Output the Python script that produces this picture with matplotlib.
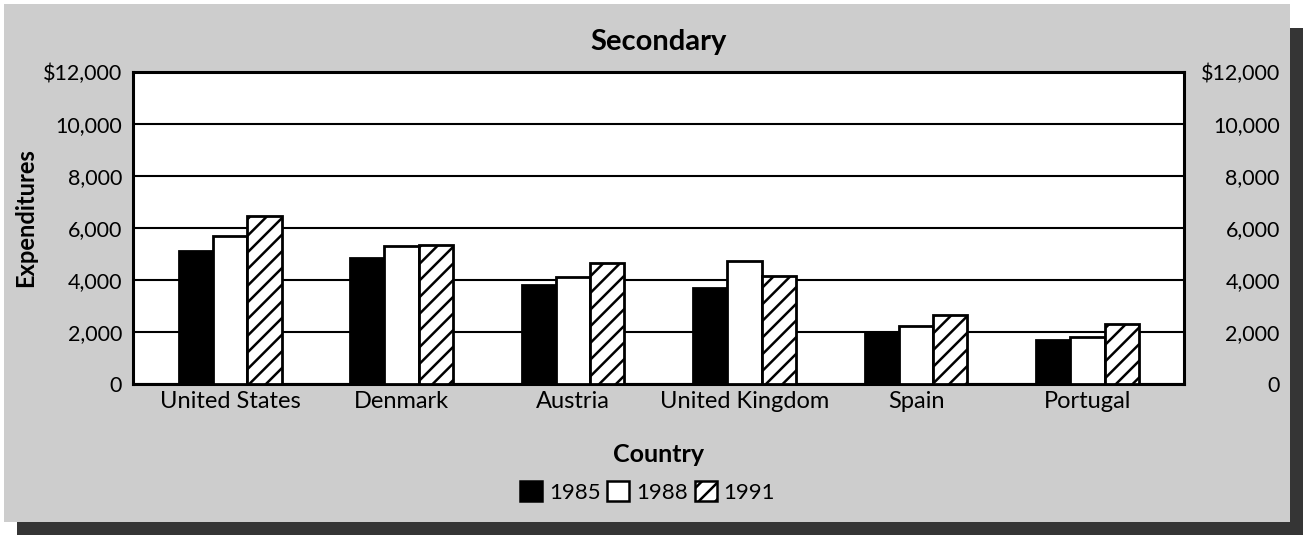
import numpy as np
import matplotlib
matplotlib.use("Agg")
import matplotlib.pyplot as plt
from matplotlib.patches import Rectangle, Patch

plt.rcParams['font.family'] = ['Lato', 'DejaVu Sans']
plt.rcParams['hatch.linewidth'] = 1.8

# data
countries = ["United States", "Denmark", "Austria", "United Kingdom", "Spain", "Portugal"]
years = ["1985", "1988", "1991"]
exp_1985 = [5100, 4850, 3800, 3700, 1950, 1700]
exp_1988 = [5700, 5300, 4100, 4750, 2250, 1800]
exp_1991 = [6450, 5350, 4650, 4150, 2650, 2300]
yticks = [0, 2000, 4000, 6000, 8000, 10000, 12000]
ytick_labels = ["0", "2,000", "4,000", "6,000", "8,000", "10,000", "$12,000"]

fig = plt.figure(figsize=(13.08, 5.39), dpi=100)
fig.patch.set_facecolor("white")

# panel with drop shadow
fig.patches.append(Rectangle((17 / 1308, 4 / 539), 1286 / 1308, 1 - 32 / 539,
                             transform=fig.transFigure, facecolor="#353535",
                             edgecolor="none", zorder=-2))
fig.patches.append(Rectangle((4 / 1308, 17 / 539), 1286 / 1308, 1 - 21 / 539,
                             transform=fig.transFigure, facecolor="#cdcdcd",
                             edgecolor="none", zorder=-1))

ax = fig.add_axes([133 / 1308, 1 - 384 / 539, 1051 / 1308, 312 / 539])
ax.set_facecolor("white")

x = np.arange(len(countries))
w = 0.2
series = [exp_1985, exp_1988, exp_1991]
styles = [dict(facecolor="black", hatch=None),
          dict(facecolor="white", hatch=None),
          dict(facecolor="white", hatch="//")]
for i, (vals, st) in enumerate(zip(series, styles)):
    ax.bar(x + (i - 1) * w, vals, w, facecolor=st["facecolor"], hatch=st["hatch"],
           edgecolor="black", linewidth=2, zorder=3, label=years[i])

ax.set_xlim(-0.566, 5.563)
ax.set_ylim(0, 12000)
ax.set_yticks(yticks)
ax.set_yticklabels(ytick_labels, fontsize=15.5)
ax.set_xticks(x)
ax.set_xticklabels(countries, fontsize=17)
ax.tick_params(axis="y", length=0, pad=8)
ax.tick_params(axis="x", length=0, pad=5)
ax.yaxis.grid(True, color="black", linewidth=1.5)
ax.set_axisbelow(True)
for s in ax.spines.values():
    s.set_linewidth(2.2)

ax2 = ax.twinx()
ax2.set_ylim(0, 12000)
ax2.set_yticks(yticks)
ax2.set_yticklabels(ytick_labels, fontsize=15.5)
for t in ax2.get_yticklabels():
    t.set_ha("right")
ax2.tick_params(axis="y", length=0, pad=69)
for s in ax2.spines.values():
    s.set_visible(False)

ax.set_ylabel("Expenditures", fontsize=17, fontweight="bold")
ax.yaxis.set_label_coords(-0.091, 0.532)
ax.set_xlabel("Country", fontsize=18, fontweight="bold", labelpad=22)
ax.set_title("Secondary", fontsize=21, fontweight="bold", pad=16)

handles = [Patch(facecolor=st["facecolor"], hatch=st["hatch"], edgecolor="black",
                 linewidth=1.8) for st in styles]
fig.legend(handles, years, loc="center", bbox_to_anchor=(0.495, 1 - 492 / 539),
           ncol=3, frameon=False, fontsize=16, handlelength=1.0, handleheight=1.0,
           handletextpad=0.3, columnspacing=0.3)

fig.savefig("out.png", dpi=100)
